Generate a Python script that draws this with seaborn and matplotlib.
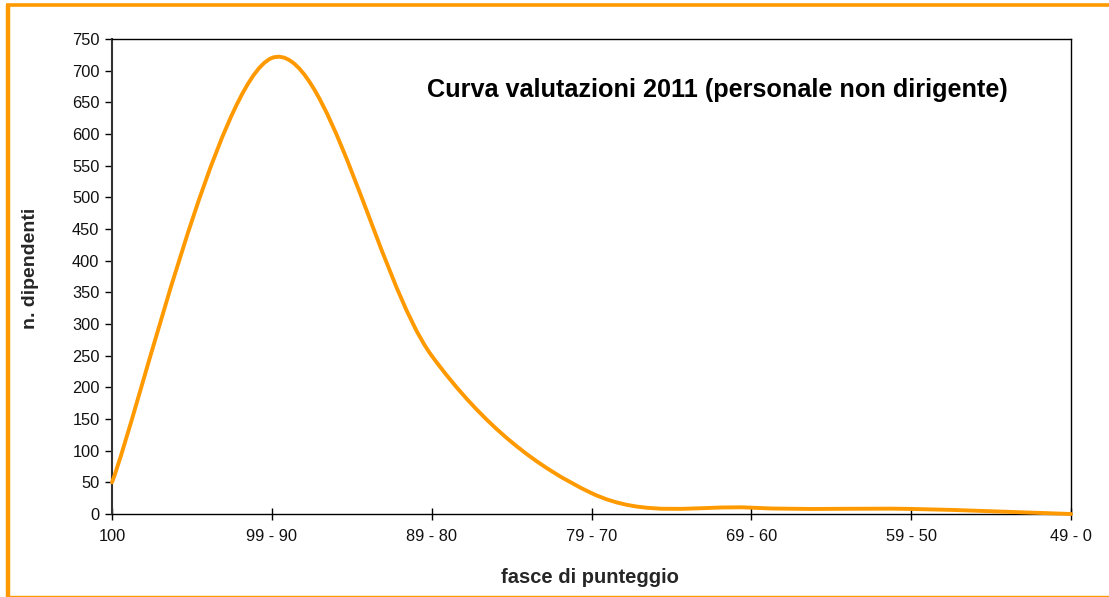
import numpy as np
import matplotlib
matplotlib.use("Agg")
import matplotlib.pyplot as plt
from matplotlib.path import Path
from matplotlib.patches import PathPatch
from matplotlib.lines import Line2D
import seaborn as sns

categories = ["100", "99 - 90", "89 - 80", "79 - 70", "69 - 60", "59 - 50", "49 - 0"]
values = [50, 720, 250, 33, 10, 8, 0]
yticks = list(range(0, 751, 50))

title = "Curva valutazioni 2011 (personale non dirigente)"
xlabel = "fasce di punteggio"
ylabel = "n. dipendenti"

ORANGE = "#FF9900"

sns.set_theme(style="white")
plt.rcParams["font.family"] = ["Liberation Sans", "DejaVu Sans"]

W, H = 1109, 597
fig = plt.figure(figsize=(11.09, 5.97), dpi=100)
ax = fig.add_axes([112 / W, 1 - 514 / H, (1071 - 112) / W, (514 - 39) / H])

# smooth (Excel-style) line: cubic Bezier through the data points
xs = np.arange(len(values), dtype=float)
ys = np.array(values, dtype=float)
n = len(xs)
verts = [(xs[0], ys[0])]
codes = [Path.MOVETO]
for i in range(n - 1):
    p0 = (xs[max(i - 1, 0)], ys[max(i - 1, 0)])
    p1 = (xs[i], ys[i])
    p2 = (xs[i + 1], ys[i + 1])
    p3 = (xs[min(i + 2, n - 1)], ys[min(i + 2, n - 1)])
    c1 = (p1[0] + (p2[0] - p0[0]) / 6, p1[1] + (p2[1] - p0[1]) / 6)
    c2 = (p2[0] - (p3[0] - p1[0]) / 6, p2[1] - (p3[1] - p1[1]) / 6)
    verts += [c1, c2, p2]
    codes += [Path.CURVE4] * 3
ax.add_patch(PathPatch(Path(verts, codes), fill=False, edgecolor=ORANGE,
                       linewidth=2.8, capstyle="round", joinstyle="round",
                       clip_on=False, zorder=3))

ax.set_xlim(0, n - 1)
ax.set_ylim(0, 750)
ax.set_xticks(xs)
ax.set_xticklabels(categories)
ax.set_yticks(yticks)
ax.set_yticklabels([str(v) for v in yticks])

for s in ax.spines.values():
    s.set_visible(True)
    s.set_color("black")
    s.set_linewidth(1.0)
ax.spines["left"].set_color("#333333")
ax.spines["left"].set_linewidth(1.5)

ax.tick_params(axis="y", direction="out", length=5, width=1, color="black",
               labelsize=11.8, labelcolor="#111111", pad=4, left=True)
ax.tick_params(axis="x", direction="inout", length=9, width=1, color="black",
               labelsize=11.8, labelcolor="#111111", pad=6, bottom=True)
ax.grid(False)

ax.set_xlabel(xlabel, fontsize=14.5, fontweight="bold")
ax.xaxis.set_label_coords((590 - 112) / (1071 - 112), -(568 - 514) / (514 - 39))
ax.set_ylabel(ylabel, fontsize=14, fontweight="bold")
ax.yaxis.set_label_coords((39 - 112) / (1071 - 112), (514 - 268) / (514 - 39))

ax.text((427 - 112) / (1071 - 112), (514 - 90) / (514 - 39), title,
        transform=ax.transAxes, fontsize=18.2, fontweight="bold",
        ha="left", va="center", color="black")

# orange frame around the chart
fig.add_artist(Line2D([8 / W, 8 / W], [0, 1 - 5 / H], color=ORANGE, linewidth=3.2,
                      transform=fig.transFigure, solid_capstyle="butt"))
fig.add_artist(Line2D([6 / W, 1], [1 - 5 / H, 1 - 5 / H], color=ORANGE, linewidth=2.6,
                      transform=fig.transFigure, solid_capstyle="butt"))
fig.add_artist(Line2D([6 / W, 1], [1 - 596 / H, 1 - 596 / H], color=ORANGE, linewidth=1.0,
                      transform=fig.transFigure, solid_capstyle="butt"))

fig.savefig("out.png", dpi=100, facecolor="white")
